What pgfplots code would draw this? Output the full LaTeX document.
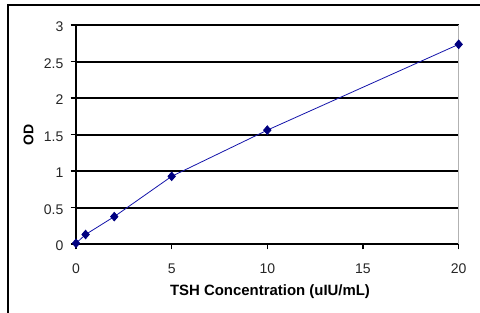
\documentclass[border=0pt]{standalone}
\usepackage{pgfplots}
\pgfplotsset{compat=1.18}
\usepackage{fontspec}
\setmainfont{Liberation Sans}
\definecolor{mk}{RGB}{0,0,128}
\definecolor{ln}{RGB}{20,20,170}
\begin{document}
\begin{tikzpicture}
\useasboundingbox (0,0) rectangle (360pt,234pt);
\draw[line width=0.8pt,black] (6pt,-2pt) -- (6pt,230.25pt) -- (362pt,230.25pt);
\begin{axis}[
  at={(57pt,51pt)}, anchor=south west,
  scale only axis, width=287pt, height=164.25pt,
  xmin=0, xmax=20, ymin=0, ymax=3,
  xtick={0,5,10,15,20}, ytick={0,0.5,1,1.5,2,2.5,3},
  yticklabels={0,0.5,1,1.5,2,2.5,3},
  axis x line*=bottom, axis y line*=left,
  axis line style={line width=1.5pt,black,-},
  tick align=outside,
  major tick length=4pt,
  every tick/.style={black,line width=1.2pt},
  ymajorgrids,
  grid style={black,line width=1.5pt},
  /pgf/number format/assume math mode=true,
  tick label style={font=\fontsize{10.5}{12}\selectfont, text=black!85},
  xticklabel style={yshift=-7pt},
  yticklabel style={xshift=-2pt, yshift=-1.5pt},
  xlabel={\textbf{TSH Concentration (uIU/mL)}},
  ylabel={\textbf{OD}},
  xlabel style={font=\fontsize{11.2}{13}\selectfont, at={([xshift=2pt,yshift=-35.6pt]axis description cs:0.5,0)}, anchor=center},
  ylabel style={font=\fontsize{10.5}{12}\selectfont, at={([xshift=-35.5pt]axis description cs:0,0.5)}, anchor=center},
  clip=false,
]
\addplot[color=ln, line width=0.6pt, mark=diamond*, mark size=3.2pt,
  mark options={fill=mk, draw=mk, xscale=1.15}] coordinates {
  (0,0.01) (0.5,0.13) (2,0.375) (5,0.927) (10,1.56) (20,2.735)
};
\draw[gray!60, line width=1.2pt] (rel axis cs:1,0) -- (rel axis cs:1,1);
\end{axis}
\end{tikzpicture}
\end{document}
